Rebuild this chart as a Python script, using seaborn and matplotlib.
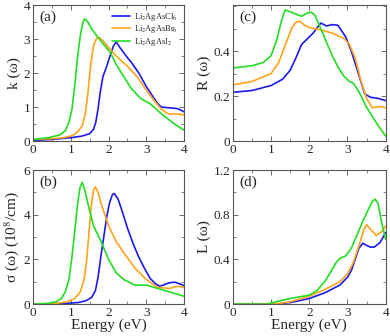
import matplotlib
matplotlib.use("Agg")
import matplotlib.pyplot as plt
import seaborn as sns
import pandas as pd
from matplotlib.ticker import MultipleLocator

sns.set_theme(style="ticks")
plt.rcParams['font.family'] = ['Liberation Serif', 'DejaVu Serif']
plt.rcParams['mathtext.fontset'] = 'stix'

labels = ["Li$_2$AgAsCl$_6$", "Li$_2$AgAsBr$_6$", "Li$_2$AgAsI$_2$"]
colors = ["#1a1aee", "#ffa31a", "#22dd22"]

# k(omega)
k_cl_x = [0, 0.5, 1.0, 1.3, 1.5, 1.6, 1.66, 1.72, 1.78, 1.85, 1.95, 2.05, 2.13, 2.2, 2.3, 2.4, 2.5, 2.6, 2.8, 3.0, 3.15, 3.3, 3.4, 3.6, 3.8, 3.9, 4.0]
k_cl_y = [0.02, 0.05, 0.1, 0.15, 0.22, 0.35, 0.55, 0.95, 1.45, 1.9, 2.2, 2.55, 2.8, 2.92, 2.75, 2.6, 2.45, 2.32, 2.0, 1.6, 1.35, 1.1, 1.0, 0.98, 0.96, 0.92, 0.86]
k_br_x = [0, 0.5, 0.8, 1.0, 1.1, 1.2, 1.3, 1.38, 1.45, 1.52, 1.6, 1.68, 1.75, 1.85, 2.0, 2.2, 2.5, 2.75, 3.0, 3.2, 3.35, 3.5, 3.6, 3.8, 4.0]
k_br_y = [0.05, 0.07, 0.1, 0.15, 0.2, 0.3, 0.45, 0.8, 1.4, 2.2, 2.8, 3.02, 3.05, 2.95, 2.75, 2.5, 2.2, 1.9, 1.5, 1.2, 1.0, 0.85, 0.8, 0.8, 0.77]
k_i_x = [0, 0.4, 0.7, 0.85, 0.95, 1.03, 1.1, 1.18, 1.25, 1.32, 1.37, 1.45, 1.55, 1.75, 1.9, 2.05, 2.2, 2.4, 2.6, 2.85, 3.1, 3.4, 3.75, 4.0]
k_i_y = [0.05, 0.1, 0.18, 0.3, 0.55, 0.95, 1.6, 2.5, 3.1, 3.5, 3.6, 3.5, 3.3, 3.0, 2.8, 2.6, 2.25, 1.9, 1.55, 1.25, 1.1, 0.8, 0.5, 0.32]

# R(omega)
r_cl_x = [0, 0.5, 1.0, 1.3, 1.5, 1.65, 1.8, 1.95, 2.1, 2.3, 2.45, 2.6, 2.75, 2.95, 3.1, 3.25, 3.45, 3.6, 3.8, 4.0]
r_cl_y = [0.217, 0.225, 0.247, 0.275, 0.315, 0.37, 0.43, 0.455, 0.48, 0.525, 0.512, 0.518, 0.515, 0.464, 0.4, 0.32, 0.21, 0.195, 0.19, 0.18]
r_br_x = [0, 0.5, 1.0, 1.2, 1.4, 1.55, 1.65, 1.75, 1.88, 2.0, 2.3, 2.6, 2.9, 3.05, 3.2, 3.35, 3.5, 3.65, 3.8, 3.9, 4.0]
r_br_y = [0.25, 0.265, 0.3, 0.35, 0.44, 0.505, 0.528, 0.533, 0.515, 0.505, 0.495, 0.48, 0.457, 0.43, 0.37, 0.27, 0.19, 0.148, 0.153, 0.153, 0.148]
r_i_x = [0, 0.5, 0.8, 1.0, 1.15, 1.28, 1.37, 1.5, 1.65, 1.8, 1.95, 2.05, 2.15, 2.3, 2.45, 2.6, 2.75, 2.9, 3.05, 3.15, 3.3, 3.5, 3.8, 4.0]
r_i_y = [0.325, 0.335, 0.35, 0.38, 0.45, 0.54, 0.583, 0.575, 0.565, 0.555, 0.57, 0.573, 0.56, 0.5, 0.44, 0.38, 0.33, 0.29, 0.265, 0.258, 0.22, 0.15, 0.07, 0.022]

# sigma(omega)
s_cl_x = [0, 0.8, 1.2, 1.4, 1.55, 1.65, 1.72, 1.8, 1.88, 1.95, 2.02, 2.1, 2.15, 2.25, 2.35, 2.5, 2.65, 2.8, 2.95, 3.1, 3.25, 3.35, 3.45, 3.6, 3.75, 3.9, 4.0]
s_cl_y = [0, 0.02, 0.07, 0.15, 0.3, 0.6, 1.2, 2.2, 3.1, 3.9, 4.5, 4.9, 4.95, 4.7, 4.2, 3.4, 2.7, 2.1, 1.6, 1.15, 0.9, 0.8, 0.85, 0.95, 0.98, 0.9, 0.82]
s_br_x = [0, 0.6, 0.9, 1.1, 1.25, 1.35, 1.42, 1.48, 1.54, 1.6, 1.65, 1.72, 1.8, 1.9, 2.0, 2.2, 2.4, 2.7, 3.0, 3.3, 3.6, 3.85, 4.0]
s_br_y = [0, 0.03, 0.1, 0.25, 0.55, 1.1, 2.0, 3.2, 4.4, 5.1, 5.25, 5.0, 4.5, 4.0, 3.5, 2.8, 2.3, 1.6, 1.1, 0.75, 0.7, 0.8, 0.75]
s_i_x = [0, 0.4, 0.6, 0.75, 0.85, 0.95, 1.02, 1.1, 1.17, 1.24, 1.3, 1.37, 1.45, 1.6, 1.8, 2.0, 2.2, 2.4, 2.7, 3.0, 3.3, 3.7, 4.0]
s_i_y = [0, 0.03, 0.1, 0.25, 0.55, 1.1, 2.0, 3.2, 4.4, 5.2, 5.45, 5.1, 4.5, 3.5, 2.8, 2.0, 1.4, 1.1, 0.85, 0.85, 0.7, 0.5, 0.35]

# L(omega)
l_cl_x = [0, 1.0, 1.3, 1.6, 2.0, 2.4, 2.8, 3.0, 3.1, 3.2, 3.3, 3.4, 3.5, 3.6, 3.7, 3.85, 4.0]
l_cl_y = [0, 0, 0.005, 0.02, 0.05, 0.1, 0.17, 0.24, 0.3, 0.4, 0.5, 0.545, 0.525, 0.51, 0.51, 0.55, 0.64]
l_br_x = [0, 1.0, 1.2, 1.5, 2.0, 2.4, 2.8, 3.0, 3.15, 3.3, 3.42, 3.5, 3.6, 3.75, 3.9, 4.0]
l_br_y = [0, 0, 0.005, 0.02, 0.07, 0.13, 0.2, 0.27, 0.37, 0.52, 0.66, 0.71, 0.67, 0.615, 0.65, 0.7]
l_i_x = [0, 0.9, 1.0, 1.5, 2.0, 2.2, 2.4, 2.55, 2.7, 2.8, 2.95, 3.1, 3.25, 3.4, 3.55, 3.65, 3.72, 3.8, 3.9, 4.0]
l_i_y = [0, 0, 0.01, 0.05, 0.08, 0.12, 0.2, 0.28, 0.37, 0.41, 0.43, 0.5, 0.62, 0.74, 0.85, 0.92, 0.94, 0.9, 0.72, 0.58]

panels = [
    ("a", [0.085, 0.580, 0.387, 0.405], "k (\u03c9)", (0, 4), [0, 1, 2, 3, 4], 0.5,
     [(k_cl_x, k_cl_y), (k_br_x, k_br_y), (k_i_x, k_i_y)], False),
    ("c", [0.597, 0.580, 0.392, 0.405], "R (\u03c9)", (0, 0.605), [0, 0.2, 0.4], 0.1,
     [(r_cl_x, r_cl_y), (r_br_x, r_br_y), (r_i_x, r_i_y)], False),
    ("b", [0.085, 0.095, 0.387, 0.399], "\u03c3 (\u03c9) (10$^8$/cm)", (0, 6), [0, 2, 4, 6], 1,
     [(s_cl_x, s_cl_y), (s_br_x, s_br_y), (s_i_x, s_i_y)], True),
    ("d", [0.597, 0.095, 0.392, 0.399], "L (\u03c9)", (0, 1.2), [0, 0.4, 0.8, 1.2], 0.2,
     [(l_cl_x, l_cl_y), (l_br_x, l_br_y), (l_i_x, l_i_y)], True),
]

fig = plt.figure(figsize=(3.9, 3.36), dpi=100)
for tag, rect, ylab, ylim, yticks, minor, series, bottom in panels:
    ax = fig.add_axes(rect)
    for (xs, ys), c, lab in zip(series, colors, labels):
        df = pd.DataFrame({"x": xs, "y": ys})
        sns.lineplot(data=df, x="x", y="y", ax=ax, color=c, lw=1.2, sort=False,
                     label=lab if tag == "a" else None, legend=False)
    ax.set_xlim(0, 4)
    ax.set_ylim(*ylim)
    ax.set_xticks([0, 1, 2, 3, 4])
    ax.set_xticklabels(["0", "1", "2", "3", "4"])
    ax.xaxis.set_minor_locator(MultipleLocator(0.5))
    ax.set_yticks(yticks)
    ax.set_yticklabels(["0" if v == 0 else f"{v:g}" for v in yticks])
    ax.yaxis.set_minor_locator(MultipleLocator(minor))
    ax.tick_params(which="both", direction="in", top=True, right=True,
                   labelsize=9.5, pad=2, color="#555555")
    ax.tick_params(which="major", length=3.5, width=0.6)
    ax.tick_params(which="minor", length=2, width=0.5)
    for s in ax.spines.values():
        s.set_color("#555555")
        s.set_linewidth(0.8)
    ax.set_ylabel(ylab, fontsize=11, labelpad=2)
    ax.set_xlabel("Energy (eV)" if bottom else "", fontsize=11, labelpad=0)
    ax.text(0.04, 0.96, f"({tag})", transform=ax.transAxes, fontsize=11,
            va="top", ha="left")
    if tag == "a":
        ax.legend(loc="upper right", fontsize=6, frameon=False,
                  handlelength=2.2, labelspacing=0.05, borderaxespad=0.3,
                  handletextpad=0.5)

fig.savefig("out.png", dpi=100)
